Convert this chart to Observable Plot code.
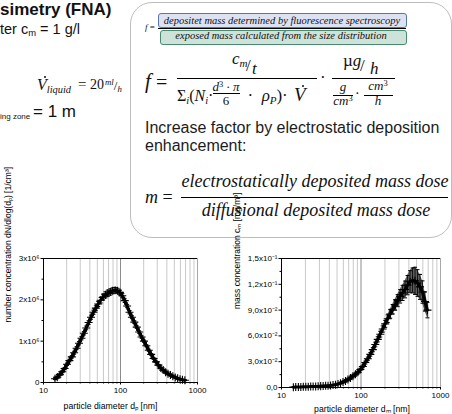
<!DOCTYPE html>
<html><head><meta charset="utf-8">
<script src="https://cdn.jsdelivr.net/npm/d3@7"></script>
<script src="https://cdn.jsdelivr.net/npm/@observablehq/plot@0.6"></script>
<style>
html,body{margin:0;padding:0;background:#fff;}
#page{position:relative;width:452px;height:414px;overflow:hidden;color:#111;}
.t{position:absolute;white-space:nowrap;line-height:1;}
.sb{font-size:.65em;position:relative;top:.3em;}
.sp{font-size:.65em;position:relative;top:-.45em;}
.sb2{font-size:.55em;position:relative;top:.25em;}
.sp2{font-size:.55em;position:relative;top:-.55em;}
.fl{position:absolute;height:0;border-top:1.3px solid #000;}
.vd{position:relative;}
.vd::after{content:"";position:absolute;left:.42em;top:.04em;width:.13em;height:.13em;border-radius:50%;background:currentColor;}
#box{position:absolute;left:130px;top:2px;width:322px;height:236px;box-sizing:border-box;border:1.5px solid #bdbdbd;border-radius:22px;}
.chart{position:absolute;top:236px;}
</style></head><body><div id="page"><div id="box"></div></div>
<script>
// ---------- data ----------
const diameters = [14.1,15.1,16.3,17.5,18.8,20.2,21.7,23.3,25.0,26.9,28.9,31.1,33.4,35.9,38.5,41.4,44.5,47.8,51.4,55.2,59.4,63.8,68.5,73.7,79.1,85.1,91.4,98.2,105.5,113.4,121.9,131.0,140.7,151.2,162.5,174.7,187.7,201.7,216.7,232.9,250.3,269.0,289.0,310.6,333.8,358.7,385.5,414.2,445.1,478.3,514.0,552.3,593.5,637.8,685.4];
// number concentration dN/dlog(dp) in 1/cm³ (values ×10⁶)
const numberConc = [0.09,0.13,0.19,0.26,0.34,0.44,0.53,0.62,0.72,0.83,0.95,1.07,1.19,1.32,1.45,1.58,1.70,1.80,1.90,1.99,2.07,2.12,2.16,2.19,2.22,2.23,2.22,2.18,2.10,1.98,1.85,1.70,1.58,1.46,1.34,1.22,1.10,1.00,0.89,0.78,0.68,0.58,0.50,0.42,0.35,0.30,0.25,0.21,0.18,0.15,0.12,0.10,0.08,0.065,0.055];
const numberErr = [0.02,0.02,0.02,0.025,0.025,0.03,0.03,0.03,0.035,0.035,0.04,0.04,0.04,0.045,0.045,0.05,0.05,0.055,0.06,0.065,0.07,0.075,0.075,0.075,0.07,0.065,0.06,0.055,0.05,0.045,0.04,0.04,0.035,0.035,0.03,0.03,0.03,0.025,0.025,0.025,0.02,0.02,0.02,0.02,0.015,0.015,0.015,0.01,0.01,0.01,0.01,0.01,0.008,0.008,0.008];
// mass concentration c_M in mg/m³
const massConc = [0.0004,0.0005,0.0006,0.0007,0.0008,0.0009,0.0010,0.0011,0.0012,0.0013,0.0014,0.0016,0.0017,0.0019,0.0021,0.0024,0.0028,0.0033,0.0040,0.0050,0.0063,0.0077,0.0093,0.0111,0.0132,0.0154,0.0178,0.0210,0.0245,0.0290,0.0335,0.0385,0.0440,0.0500,0.0560,0.0620,0.0680,0.0740,0.0800,0.0855,0.0910,0.0960,0.1010,0.1060,0.1100,0.1140,0.1190,0.1230,0.1245,0.1240,0.1215,0.1170,0.1110,0.1000,0.0900];
const massErr = [0.0002,0.0002,0.0002,0.0002,0.0002,0.0002,0.0002,0.0002,0.0002,0.0002,0.0002,0.0002,0.0002,0.0002,0.0003,0.0003,0.0004,0.0004,0.0005,0.0005,0.0006,0.0007,0.0008,0.0009,0.001,0.0011,0.0012,0.0013,0.0015,0.0017,0.0019,0.0021,0.0024,0.0027,0.003,0.0033,0.0036,0.004,0.0044,0.0049,0.0055,0.0062,0.007,0.0078,0.0088,0.0098,0.0112,0.0128,0.0145,0.0158,0.0155,0.0145,0.013,0.0112,0.009];
const gridMinor = [20,30,40,50,60,70,80,90,200,300,400,500,600,700,800,900];
const xTicks = [10,100,1000];
const xTickLabels = ["10","100","1000"];
const nTicks = [0,1e6,2e6,3e6];
const nTickLabels = ["0","1x10⁶","2x10⁶","3x10⁶"];
const nMinor = [0.5e6,1.5e6,2.5e6];
const mTicks = [0,0.03,0.06,0.09,0.12,0.15];
const mTickLabels = ["0,0","3,0x10⁻²","6,0x10⁻²","9,0x10⁻²","1,2x10⁻¹","1,5x10⁻¹"];
const mMinor = [0.015,0.045,0.075,0.105,0.135];

const SANS = '"Liberation Sans", Arial, sans-serif';
const SERIF = '"Liberation Serif", "Times New Roman", serif';
const page = document.getElementById("page");

// ---------- text helpers ----------
function T(html, x, base, fs, o = {}) {
  const el = document.createElement("div");
  el.className = "t";
  el.innerHTML = html;
  const s = el.style;
  s.fontSize = fs + "px";
  s.fontFamily = o.serif ? SERIF : SANS;
  if (o.bold) s.fontWeight = "bold";
  if (o.italic) s.fontStyle = "italic";
  if (o.color) s.color = o.color;
  s.left = x + "px";
  s.top = (base - (o.serif ? 0.84 : 0.85) * fs) + "px";
  if (o.center) s.transform = "translateX(-50%)";
  page.appendChild(el);
  return el;
}
function L(x1, x2, y, w = 1.3, c = "#000") {
  const el = document.createElement("div");
  el.className = "fl";
  el.style.left = x1 + "px"; el.style.width = (x2 - x1) + "px"; el.style.top = y + "px";
  el.style.borderTop = `${w}px solid ${c}`;
  page.appendChild(el);
}
function B(x, y, w, h, bg, bd) {
  const el = document.createElement("div");
  Object.assign(el.style, {position:"absolute", left:x+"px", top:y+"px", width:w+"px", height:h+"px",
    boxSizing:"border-box", background:bg, border:`1px solid ${bd}`, borderRadius:"3px"});
  page.appendChild(el);
}

// ---------- left text column ----------
T("simetry (FNA)", 0, 15, 17, {bold:true});
T('ter c<span class="sb">m</span> = 1 g/l', 0, 34, 14.5);
T('<i class="vd">V</i><span class="sb"><i>liquid</i></span>', 37, 90, 16, {serif:true});
T('=', 78, 90, 15, {serif:true});
T('20', 90, 90, 14, {serif:true});
T('<span class="sp2"><i>ml</i></span><span style="font-size:.8em">/</span><span class="sb2"><i>h</i></span>', 105, 90, 16, {serif:true});
T('ing zone', 0, 120, 8);
T('= 1 m', 33, 117, 17);

// ---------- box content ----------
T('<i>f</i> =', 145, 31, 9, {serif:true});
B(158, 13, 249, 14.5, "#dde2f2", "#5a74b4");
B(160, 29.5, 247, 15.5, "#cde2d8", "#4a8a6e");
L(158, 406, 27.5, 1);
T("depositet mass determined by fluorescence spectroscopy", 282, 24.5, 10.5, {serif:true, italic:true, center:true});
T("exposed mass calculated from the size distribution", 281, 40, 10.5, {serif:true, italic:true, center:true});

// main formula
T('<i>f</i>', 145, 89, 21, {serif:true});
T('=', 156, 89, 20, {serif:true});
L(177, 317, 77.5);
T('<i>c</i><span class="sb"><i>m</i></span>', 232, 64, 17, {serif:true});
T('/', 246, 71, 17, {serif:true});
T('<i>t</i>', 252, 74, 17, {serif:true});
T('Σ<span class="sb"><i>i</i></span>(<i>N</i><span class="sb"><i>i</i></span>·', 177, 101, 16, {serif:true});
T('<i>d</i><span class="sp">3</span>\u2009·\u2009<i>π</i>', 226, 91, 13, {serif:true, center:true});
L(213, 240, 93, 1);
T('6', 226, 105, 13, {serif:true, center:true});
T('\u2002·\u2002<i>ρ</i><span class="sb"><i>P</i></span>)', 239, 101, 17, {serif:true});
T('·', 282, 101, 17, {serif:true});
T('<i class="vd">V</i>', 294, 101, 19, {serif:true});
T('·', 320, 83, 17, {serif:true});
L(332, 395, 77.5);
T('µ<i>g</i>', 343, 66, 17, {serif:true});
T('/', 360, 71, 17, {serif:true});
T('<i>h</i>', 370, 74, 17, {serif:true});
T('<i>g</i>', 343, 91, 13, {serif:true, center:true});
L(333, 353, 94.5, 1);
T('<i>cm</i><span class="sp">3</span>', 343, 105, 13, {serif:true, center:true});
T('·', 355, 99, 14, {serif:true});
T('<i>cm</i><span class="sp">3</span>', 378, 90, 13, {serif:true, center:true});
L(364, 393, 94.5, 1);
T('<i>h</i>', 378, 105, 13, {serif:true, center:true});

T("Increase factor by electrostatic deposition", 145, 134, 16, {color:"#1c1c1c"});
T("enhancement:", 145, 152, 16, {color:"#1c1c1c"});

T('<i>m</i> =', 145, 203, 18, {serif:true});
L(181, 448, 196.5);
T("electrostatically deposited mass dose", 315, 187, 18, {serif:true, italic:true, center:true});
T("diffusional deposited mass dose", 316, 216, 18, {serif:true, italic:true, center:true});

// ---------- charts ----------
const capSymbol = {draw(ctx, size) { const w = Math.sqrt(size / Math.PI); ctx.moveTo(-w, 0); ctx.lineTo(w, 0); }};

function chart(o) {
  const rows = diameters.map((d, i) => ({d, v: o.vals[i], lo: o.vals[i] - o.errs[i], hi: o.vals[i] + o.errs[i]}));
  const [y0, y1] = o.yDomain;
  return Plot.plot({
    width: 226, height: 178,
    marginLeft: o.ml, marginRight: o.mr, marginTop: o.mt, marginBottom: o.mb,
    style: {background: "transparent", overflow: "visible", fontFamily: SANS, color: "#000"},
    x: {type: "log", domain: [10, 1000]},
    y: {domain: o.yDomain},
    marks: [
      Plot.ruleX(gridMinor, {stroke: "#c9c9c9", strokeWidth: 1}),
      Plot.ruleX([100], {stroke: "#8c8c8c", strokeWidth: 1}),
      Plot.ruleX([1000], {stroke: "#a8a8a8", strokeWidth: 1}),
      o.band ? Plot.areaY(rows, {x: "d", y1: "lo", y2: "hi", fill: "#5e5e5e"}) : null,
      Plot.ruleX(rows, {x: "d", y1: "lo", y2: "hi", stroke: "#000", strokeWidth: 0.8}),
      Plot.dot(rows, {x: "d", y: "hi", symbol: capSymbol, r: 2, stroke: "#000", strokeWidth: 1}),
      Plot.dot(rows, {x: "d", y: "lo", symbol: capSymbol, r: 2, stroke: "#000", strokeWidth: 1}),
      Plot.line(rows, {x: "d", y: "v", stroke: "#000", strokeWidth: o.lw}),
      Plot.dot(rows, {x: "d", y: "v", symbol: "plus", r: 2.7, stroke: "#000", strokeWidth: 1.1}),
      Plot.ruleY([y0], {stroke: "#000"}),
      Plot.ruleY([y1], {stroke: "#000"}),
      Plot.ruleX([10], {stroke: "#000"}),
      Plot.axisX({ticks: xTicks, tickFormat: d => xTickLabels[xTicks.indexOf(d)], tickSize: 2.5, tickPadding: 2, fontSize: 8, label: null, stroke: "#000"}),
      Plot.axisX({ticks: gridMinor, tickFormat: () => "", tickSize: 1.5, label: null, stroke: "#000"}),
      Plot.axisY({ticks: o.yTicks, tickFormat: d => o.yLabels[o.yTicks.indexOf(d)], tickSize: 2.5, tickPadding: 1.5, fontSize: 8, label: null, stroke: "#000"}),
      Plot.axisY({ticks: o.yMinor, tickFormat: () => "", tickSize: 1.5, label: null, stroke: "#000"}),
      Plot.text([o.xLabel], {frameAnchor: "bottom", dx: o.xdx, dy: o.xdy, fontSize: 8.7, fill: "#000"}),
      Plot.text([o.yLabel], {frameAnchor: "left", rotate: -90, dx: o.ydx, dy: o.ydy, fontSize: 8.5, fill: "#000"})
    ]
  });
}

const left = document.createElement("div"); left.className = "chart"; left.style.left = "0px";
left.append(chart({vals: numberConc.map(v => v * 1e6), errs: numberErr.map(v => v * 1e6), yDomain: [0, 3e6],
  yTicks: nTicks, yLabels: nTickLabels, yMinor: nMinor, ml: 43, mr: 29, mt: 22, mb: 32, lw: 3.2, band: false,
  xLabel: "particle diameter dₚ [nm]", xdx: -10, xdy: 26,
  yLabel: "number concentration dN/dlog(dₚ) [1/cm³]", ydx: -35, ydy: 2}));
page.appendChild(left);

const right = document.createElement("div"); right.className = "chart"; right.style.left = "226px";
right.append(chart({vals: massConc, errs: massErr, yDomain: [0, 0.15],
  yTicks: mTicks, yLabels: mTickLabels, yMinor: mMinor, ml: 55, mr: 12, mt: 22, mb: 27, lw: 3, band: true,
  xLabel: "particle diameter dₘ [nm]", xdx: 1, xdy: 24,
  yLabel: "mass concentration cₘ [mg/m³]", ydx: -44, ydy: -14}));
page.appendChild(right);
</script>
</body></html>
